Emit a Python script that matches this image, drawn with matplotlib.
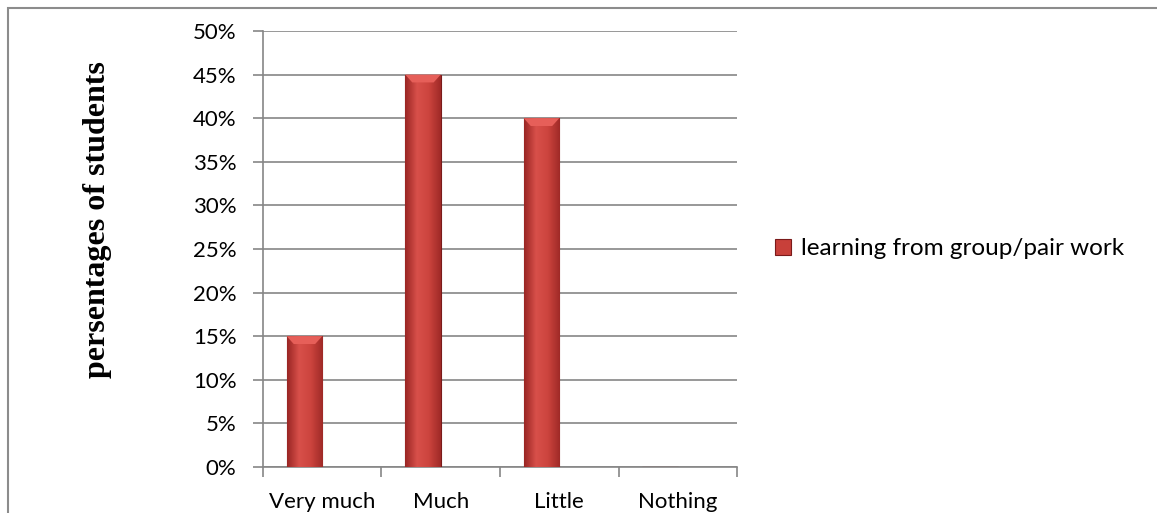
import numpy as np
import matplotlib.pyplot as plt
from matplotlib.colors import LinearSegmentedColormap
from matplotlib.patches import Rectangle
from matplotlib.ticker import PercentFormatter

# ----- data -----
categories = ["Very much", "Much", "Little", "Nothing"]
values = [15, 45, 40, 0]  # percent of students
series_name = "learning from group/pair work"

# ----- figure -----
fig = plt.figure(figsize=(11.57, 5.13), dpi=100)
ax = fig.add_axes([0.2273, 0.0897, 0.4097, 0.8499])

# outer chart border (cropped at right/bottom)
fig.patches.append(Rectangle((8 / 1157, -0.2), 2.0, 1.2 - 8 / 513, transform=fig.transFigure,
                             fill=False, edgecolor="#8c8c8c", linewidth=1.5))

x = np.arange(len(categories))
bw = 0.3
bars = ax.bar(x - bw, values, width=bw, align="edge", color="#c8403a",
              edgecolor="#7a1a1a", linewidth=0.8, zorder=3, label=series_name)

# horizontal shading on each bar
cmap = LinearSegmentedColormap.from_list("red", ["#9a2624", "#d8504a", "#cc443e", "#a02a27"])
grad = np.linspace(0, 1, 64).reshape(1, -1)
for b in bars:
    if b.get_height() <= 0:
        continue
    x0, w, h = b.get_x(), b.get_width(), b.get_height()
    im = ax.imshow(grad, cmap=cmap, aspect="auto", extent=(x0, x0 + w, 0, h), zorder=3.5)
    im.set_clip_path(b)
    # lighter bevel at top
    ax.add_patch(plt.Polygon([[x0, h], [x0 + w, h], [x0 + w * 0.8, h - 0.9], [x0 + w * 0.2, h - 0.9]],
                             closed=True, facecolor="#e65f59", edgecolor="none", zorder=4))

ax.set_xlim(-0.5, len(categories) - 0.5)
ax.set_ylim(0, 50)
ax.set_yticks(np.arange(0, 51, 5))
ax.yaxis.set_major_formatter(PercentFormatter(decimals=0))
ax.set_xticks(x)
ax.set_xticklabels(categories)
ax.set_xticks(np.arange(-0.5, len(categories), 1), minor=True)
ax.tick_params(axis="x", which="major", length=0, pad=18)
ax.tick_params(axis="x", which="minor", length=7, color="#868686", width=1.2)
ax.tick_params(axis="y", length=7, color="#868686", width=1.2, pad=12)
for lab in ax.get_xticklabels() + ax.get_yticklabels():
    lab.set_fontfamily("Lato")
    lab.set_fontsize(16)

ax.grid(axis="y", color="#868686", linewidth=1.2, zorder=0)
for side in ["top", "right"]:
    ax.spines[side].set_visible(False)
for side in ["left", "bottom"]:
    ax.spines[side].set_color("#868686")
    ax.spines[side].set_linewidth(1.2)

fig.text(97 / 1157, 1 - 220 / 513, "persentages of students", rotation=90, ha="center", va="center",
         fontfamily="Liberation Serif", fontweight="bold", fontsize=23)

leg = ax.legend(loc="center left", bbox_to_anchor=(1.035, 0.5), frameon=False,
                prop={"family": "Lato", "size": 17.5}, handlelength=0.65, handleheight=0.65,
                handletextpad=0.4)

fig.savefig("out.png", dpi=100)
